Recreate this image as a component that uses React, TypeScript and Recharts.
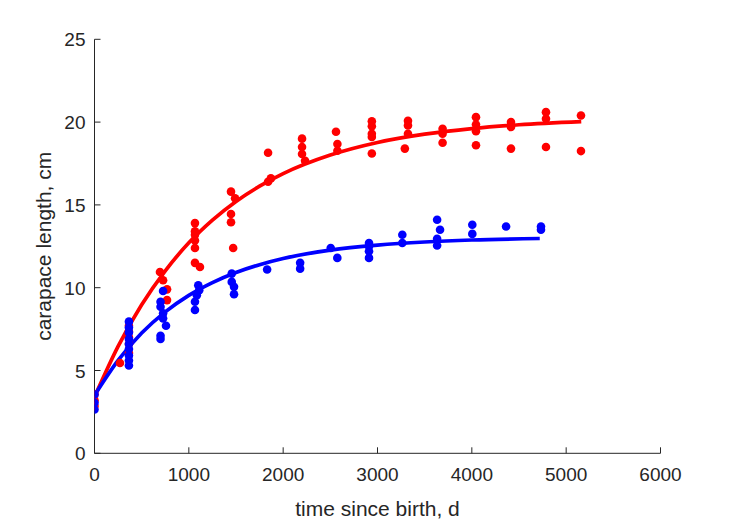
import React from 'react';
import { ComposedChart, Scatter, Line, XAxis, YAxis } from 'recharts';

// Female (red) observations: days since birth and carapace length (cm)
const redDays = [0, 0, 0, 270, 365, 365, 365, 365, 365, 694, 727, 769, 769, 1065, 1065, 1065, 1065, 1065, 1065, 1118,
  1447, 1447, 1447, 1490, 1470, 1840, 1840, 1870, 2200, 2200, 2200, 2232, 2560, 2575, 2575,
  2940, 2940, 2940, 2940, 2940, 3323, 3323, 3323, 3290, 3690, 3690, 3690, 4044, 4044, 4044, 4044,
  4415, 4415, 4415, 4786, 4786, 4786, 5157, 5157];
const redLengths = [3.55, 3.2, 2.85, 5.45, 7.7, 7.35, 7.0, 6.6, 6.05, 10.95, 10.45, 9.9, 9.25, 13.9, 13.4, 13.2, 12.85, 12.4, 11.5, 11.25,
  15.8, 14.45, 13.95, 15.4, 12.4, 18.15, 16.4, 16.6, 19.0, 18.5, 18.07, 17.67, 19.42, 18.68, 18.27,
  20.05, 19.75, 19.3, 19.1, 18.1, 20.08, 19.8, 19.3, 18.4, 19.6, 19.3, 18.75, 20.3, 19.85, 19.45, 18.6,
  20.0, 19.7, 18.4, 20.6, 20.2, 18.5, 20.4, 18.25];

// Male (blue) observations
const blueDays = [0, 0, 0, 365, 365, 365, 365, 365, 365, 365, 365, 365, 727, 700, 700, 727, 727, 758, 700, 700,
  1100, 1110, 1085, 1065, 1065, 1455, 1455, 1479, 1479, 1830, 2180, 2180, 2504, 2574,
  2910, 2910, 2910, 2910, 3263, 3263, 3632, 3632, 3632, 3663, 4005, 4005, 4363, 4733, 4733];
const blueLengths = [3.55, 3.05, 2.65, 7.95, 7.6, 7.3, 6.9, 6.6, 6.3, 5.9, 5.6, 5.3, 9.8, 9.15, 8.85, 8.45, 8.15, 7.7, 7.1, 6.9,
  10.15, 9.85, 9.55, 9.15, 8.65, 10.85, 10.35, 10.05, 9.6, 11.1, 11.5, 11.15, 12.4, 11.8,
  12.7, 12.5, 12.2, 11.8, 13.2, 12.7, 14.1, 12.95, 12.55, 13.5, 13.8, 13.25, 13.7, 13.7, 13.5];

// Fitted growth curves
const redFitDays = [0, 250, 500, 750, 1000, 1250, 1500, 1750, 2000, 2500, 3000, 3500, 4000, 4500, 5160];
const redFitLengths = [3.4, 6.46, 8.97, 11.02, 12.71, 14.08, 15.21, 16.13, 16.89, 18.01, 18.77, 19.27, 19.61, 19.84, 20.03];
const blueFitDays = [0, 250, 500, 750, 1000, 1250, 1500, 1750, 2000, 2500, 3000, 3500, 4000, 4720];
const blueFitLengths = [3.5, 5.61, 7.26, 8.54, 9.54, 10.31, 10.92, 11.39, 11.76, 12.27, 12.57, 12.76, 12.88, 12.97];

const xTicks = [0, 1000, 2000, 3000, 4000, 5000, 6000];
const yTicks = [0, 5, 10, 15, 20, 25];

const zip = (xs: number[], ys: number[]) => xs.map((x, i) => ({ x, y: ys[i] }));
const redPts = zip(redDays, redLengths);
const bluePts = zip(blueDays, blueLengths);
const redFit = zip(redFitDays, redFitLengths);
const blueFit = zip(blueFitDays, blueFitLengths);

const AX = '#262626';
const FONT = '"Liberation Sans", Arial, Helvetica, sans-serif';

const XTick = (props: any) => {
  const { x, y, payload } = props;
  return (
    <g>
      <line x1={x} x2={x} y1={y} y2={y - 6} stroke={AX} strokeWidth={1} />
      <text x={x} y={y + 28} textAnchor="middle" fill={AX} fontSize={19} fontFamily={FONT}>{payload.value}</text>
    </g>
  );
};

const YTick = (props: any) => {
  const { x, y, payload } = props;
  return (
    <g>
      <line x1={x} x2={x + 6} y1={y} y2={y} stroke={AX} strokeWidth={1} />
      <text x={x - 9} y={y + 7} textAnchor="end" fill={AX} fontSize={19} fontFamily={FONT}>{payload.value}</text>
    </g>
  );
};

const dot = (color: string) => (p: any) => <circle cx={p.cx} cy={p.cy} r={4.3} fill={color} />;

export default function App() {
  return (
    <div style={{ position: 'absolute', left: 0, top: 0, background: '#fff' }}>
      <ComposedChart width={729} height={521} margin={{ top: 39.3, right: 68.5, bottom: 0, left: 0 }}>
        <XAxis
          type="number"
          dataKey="x"
          domain={[0, 6000]}
          ticks={xTicks}
          allowDataOverflow
          height={67.7}
          tickSize={0}
          tickMargin={0}
          tick={<XTick />}
          tickLine={false}
          axisLine={{ stroke: AX, strokeWidth: 1 }}
          label={{ value: 'time since birth, d', position: 'insideBottom', offset: 5, fill: AX, fontSize: 21, fontFamily: FONT }}
        />
        <YAxis
          type="number"
          dataKey="y"
          domain={[0, 25]}
          ticks={yTicks}
          allowDataOverflow
          width={94.5}
          tickSize={0}
          tickMargin={0}
          tick={<YTick />}
          tickLine={false}
          axisLine={{ stroke: AX, strokeWidth: 1 }}
          label={{ value: 'carapace length, cm', angle: -90, position: 'insideLeft', offset: 44, fill: AX, fontSize: 21, fontFamily: FONT, style: { textAnchor: 'middle' } }}
        />
        <Scatter data={redPts} dataKey="y" fill="#ff0000" shape={dot('#ff0000')} isAnimationActive={false} />
        <Line data={redFit} dataKey="y" type="monotone" stroke="#ff0000" strokeWidth={3.7} dot={false} activeDot={false} isAnimationActive={false} />
        <Scatter data={bluePts} dataKey="y" fill="#0000ff" shape={dot('#0000ff')} isAnimationActive={false} />
        <Line data={blueFit} dataKey="y" type="monotone" stroke="#0000ff" strokeWidth={3.7} dot={false} activeDot={false} isAnimationActive={false} />
      </ComposedChart>
    </div>
  );
}
